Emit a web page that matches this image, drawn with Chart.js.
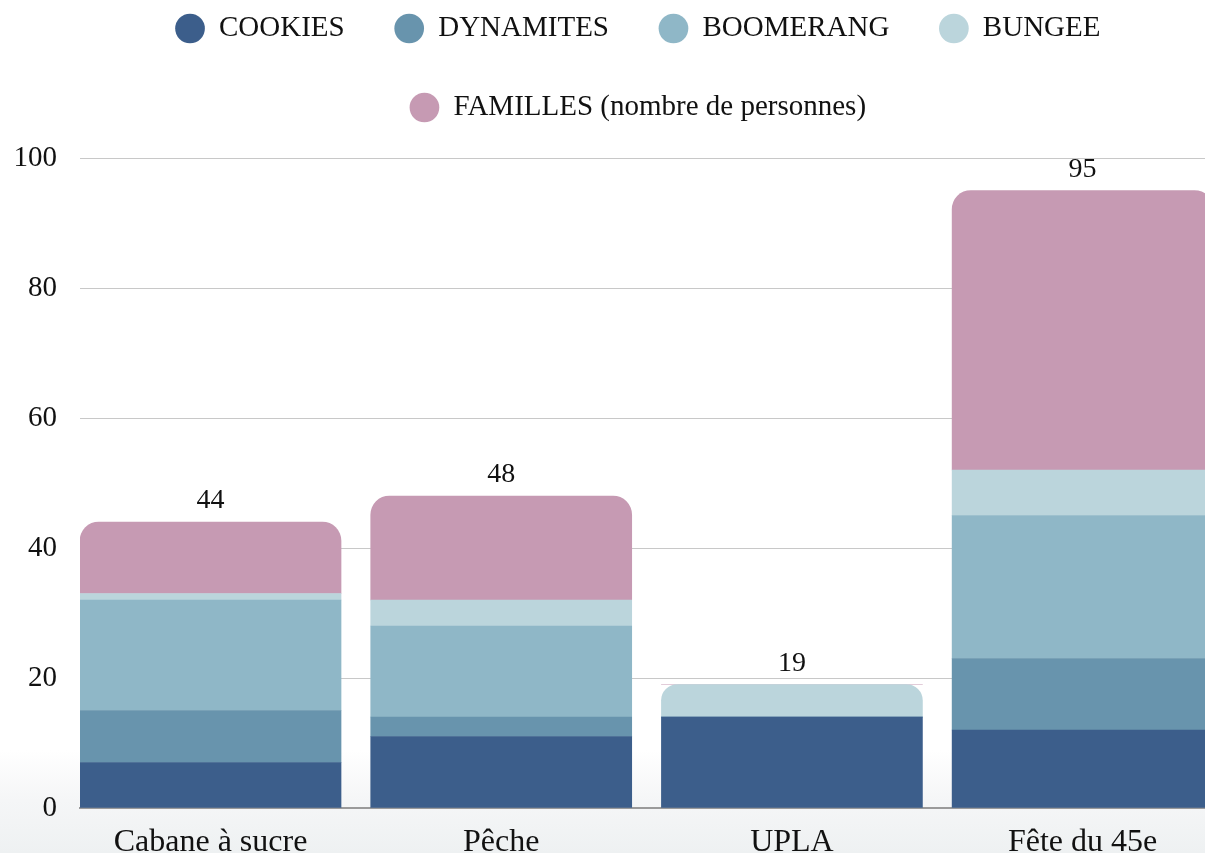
<!DOCTYPE html>
<html>
<head>
<meta charset="utf-8">
<script src="https://cdn.jsdelivr.net/npm/chart.js@4.4.1/dist/chart.umd.min.js"></script>
<style>
  html, body { margin: 0; padding: 0; overflow: hidden; }
  body {
    width: 1205px; height: 853px;
    background: linear-gradient(to bottom, #ffffff 0px, #ffffff 750px, #f5f6f7 800px, #eef1f2 853px);
  }
  #wrap { width: 1276px; height: 853px; }
</style>
</head>
<body>
<div id="wrap"><canvas id="bar-chart" width="1276" height="853"></canvas></div>
<script>
// categories + series
const categories = ['Cabane à sucre', 'Pêche', 'UPLA', 'Fête du 45e'];
const cookies   = [7, 11, 14, 12];
const dynamites = [8, 3, 0, 11];
const boomerang = [17, 14, 0, 22];
const bungee    = [1, 4, 5, 7];
const familles  = [11, 16, 0, 43];
const yTicks = [0, 20, 40, 60, 80, 100];

const series = [
  { label: 'COOKIES', values: cookies, color: '#3c5e8b' },
  { label: 'DYNAMITES', values: dynamites, color: '#6894ad' },
  { label: 'BOOMERANG', values: boomerang, color: '#8fb7c7' },
  { label: 'BUNGEE', values: bungee, color: '#bbd5dc' },
  { label: 'FAMILLES (nombre de personnes)', values: familles, color: '#c69ab3' },
];

const totals = categories.map((c, i) => series.reduce((s, d) => s + d.values[i], 0));
// which dataset is the visible top of each stack
const topIdx = categories.map((c, i) => {
  let top = 0;
  series.forEach((d, k) => { if (d.values[i] > 0) top = k; });
  return top;
});

const serif = "'Liberation Serif', 'DejaVu Serif', serif";

const datasets = series.map((d, k) => ({
  label: d.label,
  data: d.values.map((v, i) => ({ x: i, y: v })),
  backgroundColor: d.color,
  borderColor: d.color,
  borderWidth: 0,
  stack: 'all',
  barThickness: 261,
  borderSkipped: 'start',
  borderRadius: (ctx) => topIdx[ctx.dataIndex] === k
    ? { topLeft: 19, topRight: 19, bottomLeft: 0, bottomRight: 0 }
    : 0,
}));

// totals above each bar
const totalsPlugin = {
  id: 'totals',
  afterDatasetsDraw(chart) {
    const ctx = chart.ctx;
    ctx.save();
    ctx.font = '28px ' + serif;
    ctx.fillStyle = '#111';
    ctx.textAlign = 'center';
    ctx.textBaseline = 'middle';
    categories.forEach((c, i) => {
      const el = chart.getDatasetMeta(topIdx[i]).data[i];
      ctx.fillText(String(totals[i]), el.x, el.y - 21);
    });
    ctx.restore();
  }
};

// extra room between legend and plot
const legendSpace = {
  id: 'legendSpace',
  beforeInit(chart) {
    const originalFit = chart.legend.fit;
    chart.legend.fit = function fit() {
      originalFit.bind(chart.legend)();
      this.height += 26;
    };
  }
};

const pxPerCat = 290.7;
const plotWidth = 1276 - 80;
const xMin = -0.449;
const xMax = xMin + plotWidth / pxPerCat;

const chart = new Chart(document.getElementById('bar-chart'), {
  type: 'bar',
  data: { datasets: datasets },
  options: {
    responsive: false,
    animation: false,
    layout: { padding: { top: -36, left: 0, right: 0, bottom: 0 } },
    scales: {
      x: {
        type: 'linear',
        offset: false,
        min: xMin,
        max: xMax,
        grid: { display: false },
        border: { display: true, color: '#9a9a9a', width: 2 },
        afterFit(scale) { scale.height = 45; },
        ticks: {
          stepSize: 1,
          includeBounds: false,
          autoSkip: false,
          maxRotation: 0,
          padding: 7,
          color: '#111',
          font: { family: serif, size: 32 },
          callback: (v) => (Number.isInteger(v) && categories[v] !== undefined) ? categories[v] : '',
        },
      },
      y: {
        stacked: true,
        min: 0,
        max: 100,
        afterFit(scale) { scale.width = 80; },
        afterBuildTicks(scale) { scale.ticks = yTicks.map(v => ({ value: v })); },
        grid: { color: '#c8c8c8', drawTicks: false },
        border: { display: false },
        ticks: {
          padding: 23,
          color: '#111',
          font: { family: serif, size: 29 },
        },
      },
    },
    plugins: {
      tooltip: { enabled: false },
      legend: {
        position: 'top',
        labels: {
          usePointStyle: true,
          pointStyle: 'circle',
          boxWidth: 30,
          boxHeight: 21,
          padding: 50,
          color: '#111',
          font: { family: serif, size: 29 },
        },
      },
    },
  },
  plugins: [totalsPlugin, legendSpace],
});
</script>
</body>
</html>
